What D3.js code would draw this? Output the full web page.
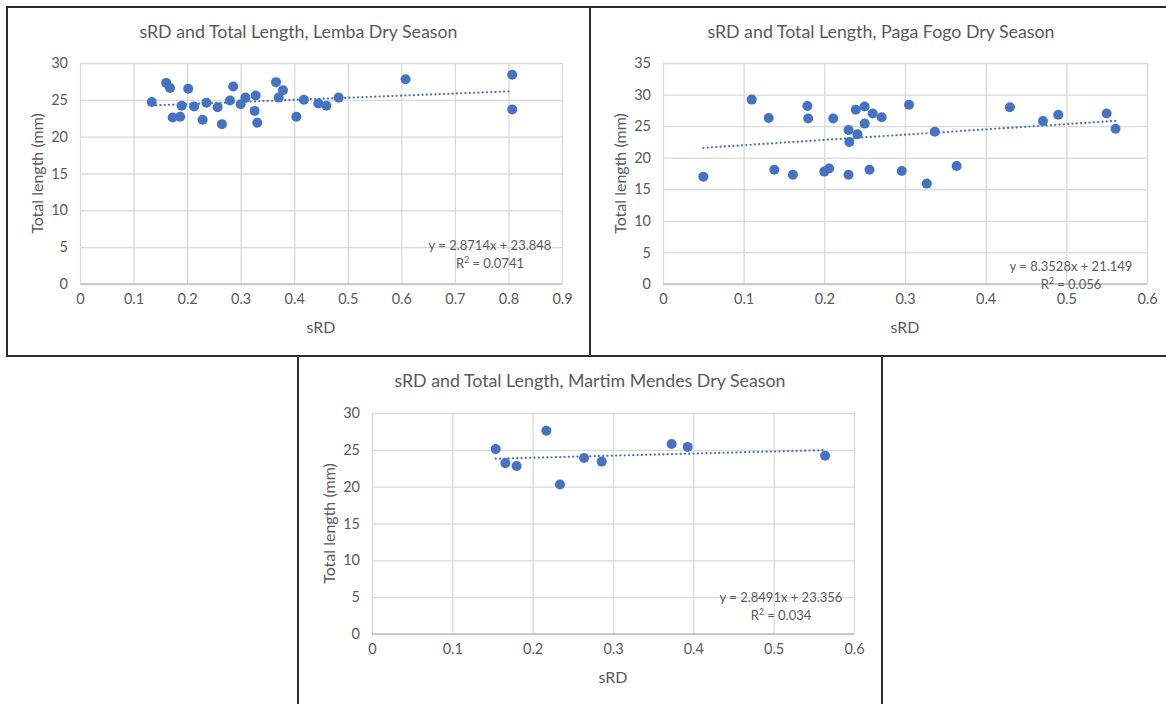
<!DOCTYPE html>
<html>
<head>
<meta charset="utf-8">
<script src="https://cdn.jsdelivr.net/npm/d3@7/dist/d3.min.js"></script>
<style>
  html, body { margin: 0; padding: 0; background: #ffffff; }
  svg { display: block; }
  text { font-family: Lato, "Open Sans", "Liberation Sans", sans-serif; fill: #595959; }
</style>
</head>
<body>
<svg id="chart" width="1166" height="704"></svg>
<script>
// sRD vs total length (mm), dry season samples per site
const lembaSRD = [0.134, 0.161, 0.168, 0.173, 0.187, 0.190, 0.202, 0.213, 0.229, 0.236,
                  0.257, 0.265, 0.280, 0.286, 0.300, 0.309, 0.326, 0.328, 0.331, 0.366,
                  0.371, 0.379, 0.404, 0.418, 0.445, 0.460, 0.483, 0.608, 0.807, 0.807];
const lembaLength = [24.7, 27.3, 26.6, 22.6, 22.7, 24.2, 26.5, 24.1, 22.3, 24.6,
                     24.0, 21.7, 24.9, 26.8, 24.4, 25.3, 23.5, 25.6, 21.9, 27.4,
                     25.3, 26.3, 22.7, 25.0, 24.5, 24.2, 25.3, 27.8, 28.4, 23.7];

const pagaFogoSRD = [0.050, 0.110, 0.131, 0.138, 0.161, 0.179, 0.180, 0.200, 0.206, 0.211,
                     0.230, 0.230, 0.231, 0.239, 0.241, 0.250, 0.250, 0.256, 0.260, 0.271,
                     0.296, 0.305, 0.327, 0.337, 0.364, 0.430, 0.471, 0.490, 0.550, 0.561];
const pagaFogoLength = [17.0, 29.2, 26.3, 18.1, 17.3, 28.2, 26.2, 17.8, 18.3, 26.2,
                        24.4, 17.3, 22.5, 27.6, 23.7, 28.1, 25.4, 18.1, 27.0, 26.4,
                        17.9, 28.4, 15.9, 24.1, 18.7, 28.0, 25.8, 26.8, 27.0, 24.6];

const martimSRD = [0.154, 0.166, 0.180, 0.217, 0.234, 0.264, 0.286, 0.373, 0.393, 0.564];
const martimLength = [25.1, 23.2, 22.8, 27.6, 20.3, 23.9, 23.4, 25.8, 25.4, 24.2];

// Linear trendlines (slope, intercept, R²) as reported for each site
const lembaFit = { slope: 2.8714, intercept: 23.848, r2: "0.0741" };
const pagaFogoFit = { slope: 8.3528, intercept: 21.149, r2: "0.056" };
const martimFit = { slope: 2.8491, intercept: 23.356, r2: "0.034" };

// Axis ticks
const lembaXTicks = [0, 0.1, 0.2, 0.3, 0.4, 0.5, 0.6, 0.7, 0.8, 0.9];
const lembaYTicks = [0, 5, 10, 15, 20, 25, 30];
const pagaFogoXTicks = [0, 0.1, 0.2, 0.3, 0.4, 0.5, 0.6];
const pagaFogoYTicks = [0, 5, 10, 15, 20, 25, 30, 35];
const martimXTicks = [0, 0.1, 0.2, 0.3, 0.4, 0.5, 0.6];
const martimYTicks = [0, 5, 10, 15, 20, 25, 30];

const titles = [
  "sRD and Total Length, Lemba Dry Season",
  "sRD and Total Length, Paga Fogo Dry Season",
  "sRD and Total Length, Martim Mendes Dry Season"
];

const svg = d3.select("#chart");
const markerColor = "#4472C4";
const gridColor = "#d9d9d9";

function fmtCoef(v) { return d3.format(".4~f")(v); }
function fmtInt(v) { return d3.format(".3f")(v); }

function drawPanel(p) {
  const g = svg.append("g");

  // panel frame
  g.append("rect")
    .attr("x", p.box[0]).attr("y", p.box[1])
    .attr("width", p.box[2] - p.box[0]).attr("height", p.box[3] - p.box[1])
    .attr("fill", "none").attr("stroke", "#2b2b2b").attr("stroke-width", 2);

  const x = d3.scaleLinear().domain([0, d3.max(p.xTicks)]).range([p.plot[0], p.plot[2]]);
  const y = d3.scaleLinear().domain([0, d3.max(p.yTicks)]).range([p.plot[3], p.plot[1]]);

  // horizontal gridlines with labels
  const yAxis = d3.axisLeft(y).tickValues(p.yTicks).tickFormat(d3.format("d"))
    .tickSize(-(p.plot[2] - p.plot[0])).tickPadding(12);
  const ya = g.append("g").attr("transform", `translate(${p.plot[0]},0)`).call(yAxis);
  ya.select(".domain").remove();
  ya.selectAll(".tick line").attr("stroke", gridColor).attr("stroke-width", 1.3);
  ya.selectAll(".tick text").attr("font-size", 14.5).attr("fill", "#595959")
    .style("font-family", "Lato, 'Open Sans', sans-serif");

  // vertical gridlines with labels
  const xAxis = d3.axisBottom(x).tickValues(p.xTicks).tickFormat(d => d === 0 ? "0" : d3.format(".1f")(d))
    .tickSize(-(p.plot[3] - p.plot[1])).tickPadding(10);
  const xa = g.append("g").attr("transform", `translate(0,${p.plot[3]})`).call(xAxis);
  xa.select(".domain").remove();
  xa.selectAll(".tick line").attr("stroke", gridColor).attr("stroke-width", 1.3);
  xa.selectAll(".tick text").attr("font-size", 14.5).attr("fill", "#595959")
    .style("font-family", "Lato, 'Open Sans', sans-serif");

  // baseline axis
  g.append("line")
    .attr("x1", p.plot[0]).attr("x2", p.plot[2])
    .attr("y1", y(0)).attr("y2", y(0))
    .attr("stroke", "#bfbfbf").attr("stroke-width", 1.3);

  // title
  g.append("text")
    .attr("x", (p.box[0] + p.box[2]) / 2).attr("y", p.box[1] + 31)
    .attr("text-anchor", "middle").attr("font-size", 17.8)
    .text(p.title);

  // axis titles
  g.append("text")
    .attr("x", (p.plot[0] + p.plot[2]) / 2).attr("y", p.plot[3] + 49)
    .attr("text-anchor", "middle").attr("font-size", 16)
    .text("sRD");
  g.append("text")
    .attr("transform", `translate(${p.plot[0] - 37},${(p.plot[1] + p.plot[3]) / 2}) rotate(-90)`)
    .attr("text-anchor", "middle").attr("font-size", 16)
    .text("Total length (mm)");

  // dotted trendline across data range
  const xs = d3.extent(p.xs);
  const line = d3.line().x(d => x(d)).y(d => y(p.fit.slope * d + p.fit.intercept));
  g.append("path")
    .datum(xs)
    .attr("d", line)
    .attr("fill", "none")
    .attr("stroke", markerColor)
    .attr("stroke-width", 2.2)
    .attr("stroke-linecap", "round")
    .attr("stroke-dasharray", "0.1,4.2");

  // points
  const pts = p.xs.map((v, i) => [v, p.ys[i]]);
  g.append("g").selectAll("circle").data(pts).join("circle")
    .attr("cx", d => x(d[0])).attr("cy", d => y(d[1]))
    .attr("r", 5)
    .attr("fill", markerColor);

  // equation label
  const eq = g.append("text")
    .attr("x", p.eqPos[0]).attr("y", p.eqPos[1])
    .attr("text-anchor", "middle").attr("font-size", 13);
  eq.text(`y = ${fmtCoef(p.fit.slope)}x + ${fmtInt(p.fit.intercept)}`);
  const r2 = g.append("text")
    .attr("x", p.eqPos[0]).attr("y", p.eqPos[1] + 18)
    .attr("text-anchor", "middle").attr("font-size", 13);
  r2.append("tspan").text("R");
  r2.append("tspan").attr("dy", -5).attr("font-size", 8.5).text("2");
  r2.append("tspan").attr("dy", 5).text(` = ${p.fit.r2}`);
}

drawPanel({
  title: titles[0], box: [7, 7, 590, 356], plot: [80, 63, 562, 284],
  xTicks: lembaXTicks, yTicks: lembaYTicks, xs: lembaSRD, ys: lembaLength,
  fit: lembaFit, eqPos: [490, 250]
});
drawPanel({
  title: titles[1], box: [590, 7, 1172, 356], plot: [663, 63, 1147, 284],
  xTicks: pagaFogoXTicks, yTicks: pagaFogoYTicks, xs: pagaFogoSRD, ys: pagaFogoLength,
  fit: pagaFogoFit, eqPos: [1071, 271]
});
drawPanel({
  title: titles[2], box: [298, 356, 882, 712], plot: [372, 413, 854, 634],
  xTicks: martimXTicks, yTicks: martimYTicks, xs: martimSRD, ys: martimLength,
  fit: martimFit, eqPos: [781, 602]
});
</script>
</body>
</html>
